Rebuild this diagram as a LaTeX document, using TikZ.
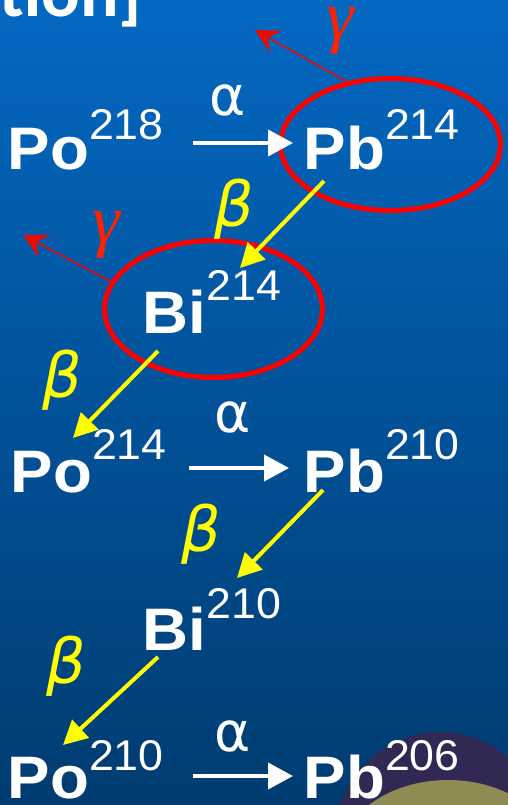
\documentclass[tikz,border=0pt]{standalone}
\usepackage{fontspec}
\usetikzlibrary{arrows.meta,shapes.geometric}
\newfontfamily\elbf{Liberation Sans Bold}[FakeStretch=1.06]
\newfontfamily\elsup{Liberation Sans}[FakeStretch=1.04]
\newfontfamily\alfont{DejaVu Sans}
\newfontfamily\btfont{DejaVu Sans}
\newfontfamily\grfont{Liberation Serif Italic}
\newfontfamily\hdfont{Carlito Bold}
\definecolor{bgtop}{RGB}{4,104,194}
\definecolor{bgmid}{RGB}{3,82,156}
\definecolor{bgbot}{RGB}{0,60,112}
\definecolor{decopurple}{RGB}{50,40,84}
\definecolor{decoolive}{RGB}{142,140,82}
\definecolor{ringred}{RGB}{255,0,0}
\definecolor{gred}{RGB}{235,10,0}
\definecolor{glab}{RGB}{255,34,0}
\definecolor{byellow}{RGB}{255,255,0}
\newcommand{\iso}[3]{{\elbf\fontsize{60}{60}\selectfont #1}{\elsup\fontsize{43}{43}\selectfont\raisebox{#3pt}{#2}}}
\begin{document}
\begin{tikzpicture}[x=1pt,y=-1pt,
  el/.style={anchor=base west, inner sep=0pt, text=white},
  hd/.style={anchor=base west, inner sep=0pt, text=white, font={\hdfont\fontsize{72}{72}\selectfont}},
  ring/.style={draw=ringred, line width=5pt, ellipse, inner sep=0pt},
  allab/.style={anchor=base, inner sep=0pt, text=white, font={\alfont\fontsize{55}{55}\selectfont}},
  btlab/.style={inner sep=0pt, text=byellow, font={\btfont\itshape\fontsize{62}{62}\selectfont}},
  gmlab/.style={inner sep=0pt, text=glab, font={\grfont\fontsize{70}{70}\selectfont}},
  alphaarr/.style={draw=white, line width=4pt, -{Triangle[length=25pt,width=26pt]}},
  betaarr/.style={draw=byellow, line width=4pt, -{Triangle[length=24pt,width=24pt]}},
  gammaarr/.style={draw=gred, line width=1.5pt, -{Stealth[length=24pt,width=25pt,inset=9pt]}}]
\useasboundingbox (0,0) rectangle (508,805);
\begin{scope}
\clip (0,0) rectangle (508,805);
\shade[top color=bgtop, middle color=bgmid, bottom color=bgbot] (0,0) rectangle (508,805);
\fill[decopurple] (440,842) ellipse [x radius=106, y radius=110];
\fill[decoolive] (448,862) ellipse [x radius=110, y radius=82];
\node[hd] (hdr) at (-1,17) {tion]};
\end{scope}

% element nodes
\node[el] (po218) at (7.6,170) {\iso{Po}{218}{30}};
\node[el] (pb214) at (303.6,170) {\iso{Pb}{214}{30}};
\node[el] (bi214) at (142.6,333) {\iso{Bi}{214}{33}};
\node[el] (po214) at (10.6,492) {\iso{Po}{214}{33}};
\node[el] (pb210) at (303.6,492) {\iso{Pb}{210}{33}};
\node[el] (bi210) at (142.6,650) {\iso{Bi}{210}{32}};
\node[el] (po210) at (7.6,798) {\iso{Po}{210}{28}};
\node[el] (pb206) at (303.6,798) {\iso{Pb}{206}{28}};

% rings
\node[ring, minimum width=220pt, minimum height=132pt] (ring1) at (390.5,144.5) {};
\node[ring, minimum width=218pt, minimum height=137pt] (ring2) at (213.5,309) {};

% labels
\node[allab] (alpha1) at (227.5,116) {α};
\node[allab] (alpha2) at (232.5,432) {α};
\node[allab] (alpha3) at (232.5,751) {α};
\node[btlab] (beta1) at (234,209.5) {β};
\node[btlab] (beta2) at (62,380.5) {β};
\node[btlab] (beta3) at (201.5,534.5) {β};
\node[btlab] (beta4) at (66,666.5) {β};
\node[gmlab] (gamma1) at (340,30.5) {γ};
\node[gmlab] (gamma2) at (106,234.5) {γ};

% alpha arrows
\draw[alphaarr] ([xshift=185.4pt,yshift=27pt]po218.base west) -- ([xshift=-10.6pt,yshift=27pt]pb214.base west);
\draw[alphaarr] ([xshift=178.4pt,yshift=24pt]po214.base west) -- ([xshift=-14.6pt,yshift=24pt]pb210.base west);
\draw[alphaarr] ([xshift=185.4pt,yshift=22pt]po210.base west) -- ([xshift=-10.6pt,yshift=22pt]pb206.base west);

% beta arrows
\draw[betaarr] ([xshift=20.4pt,yshift=-11pt]pb214.base west) -- ([xshift=97.4pt,yshift=65pt]bi214.base west);
\draw[betaarr] ([xshift=15.4pt,yshift=-18pt]bi214.base west) -- ([xshift=62.4pt,yshift=54pt]po214.base west);
\draw[betaarr] ([xshift=19.4pt,yshift=2pt]pb210.base west) -- ([xshift=94.4pt,yshift=72pt]bi210.base west);
\draw[betaarr] ([xshift=15.4pt,yshift=-7pt]bi210.base west) -- ([xshift=55.4pt,yshift=53pt]po210.base west);

% gamma arrows
\coordinate (g1tip) at (255,30);
\coordinate (g2tip) at (23,235);
\draw[gammaarr] (ring1.125) -- (g1tip);
\draw[gammaarr] (ring2.165) -- (g2tip);
\end{tikzpicture}
\end{document}
